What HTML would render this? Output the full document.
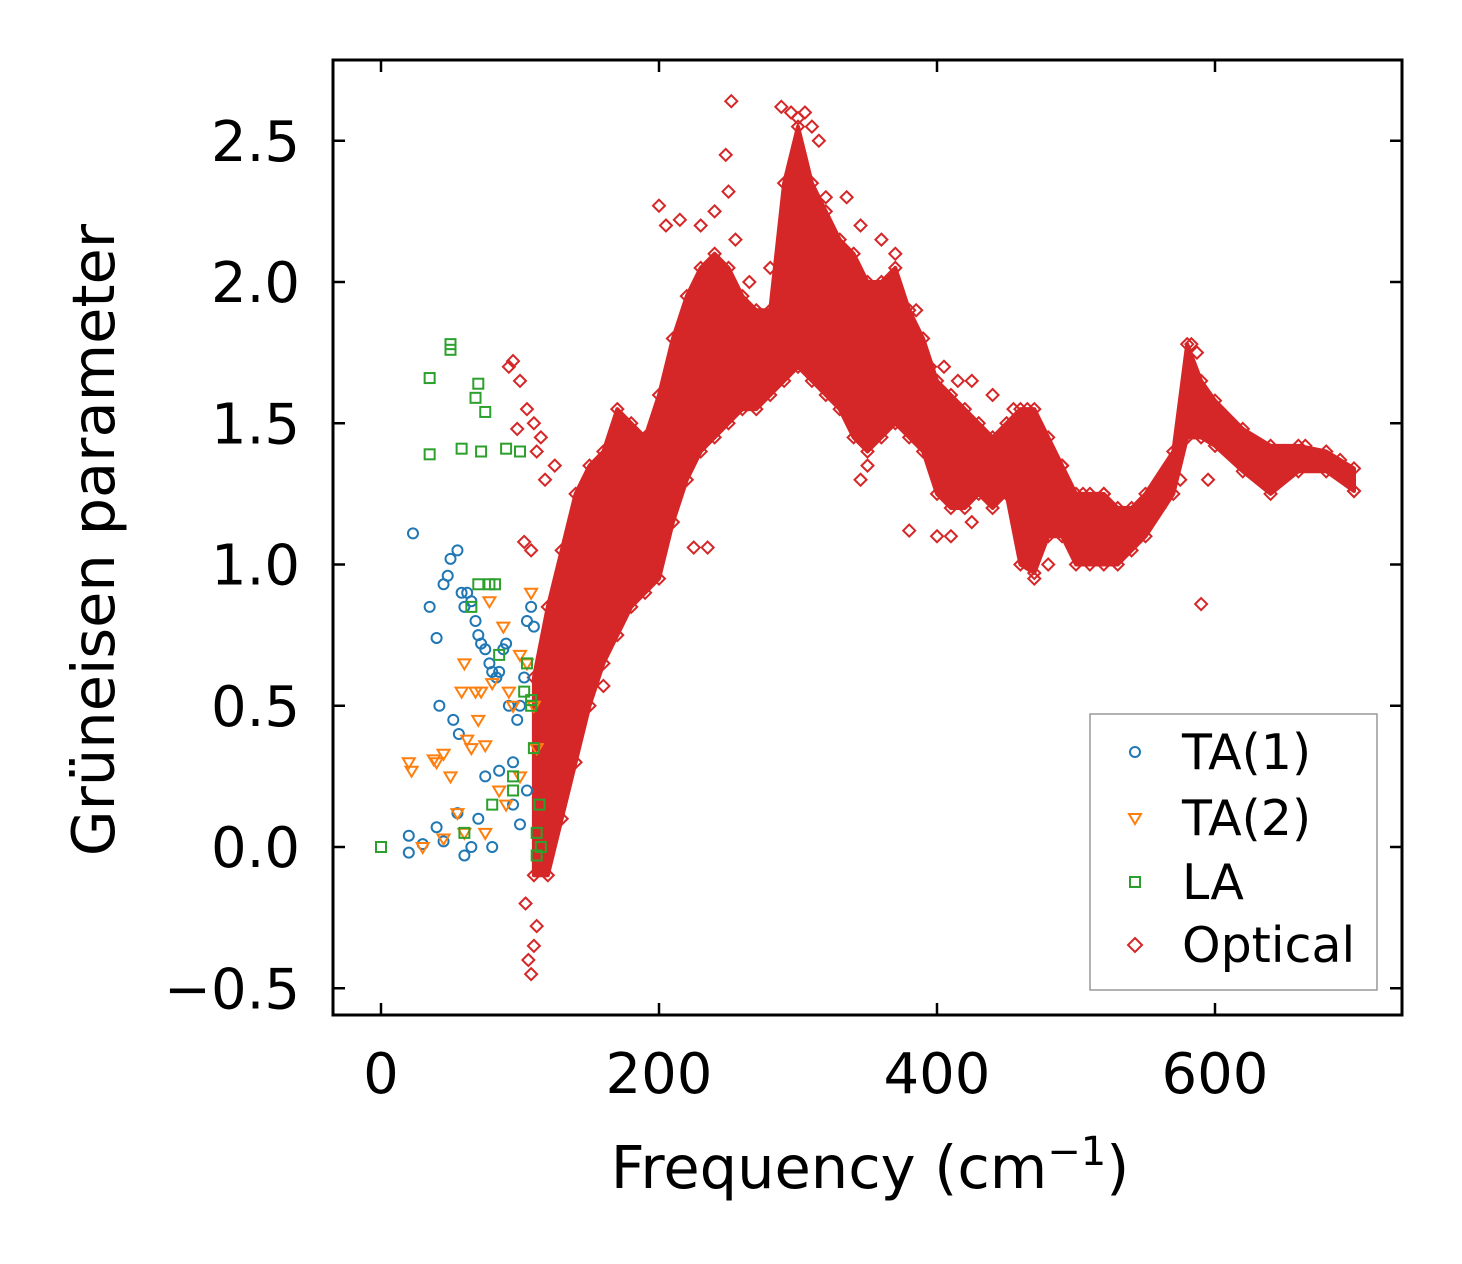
<!DOCTYPE html>
<html><head><meta charset="utf-8"><style>
html,body{margin:0;padding:0;background:#fff}
svg{display:block;font-family:"DejaVu Sans","Liberation Sans",sans-serif}
</style></head><body>
<svg id="chart" width="1462" height="1264" viewBox="0 0 1462 1264" xmlns="http://www.w3.org/2000/svg">
<rect width="1462" height="1264" fill="#fff"/>
<g id="marks"></g>
<g id="axes"></g>
<text x="870" y="1188" font-size="59" text-anchor="middle">Frequency (cm<tspan font-size="40" dy="-23">−1</tspan><tspan dy="23">)</tspan></text>
<text transform="translate(114,540) rotate(-90)" font-size="59" text-anchor="middle">Grüneisen parameter</text>
<g>
<rect x="1090" y="714" width="287" height="276" fill="#fff" stroke="#999" stroke-width="1.5"/>
<circle cx="1135" cy="752" r="5" fill="none" stroke="#1f77b4" stroke-width="2"/>
<text x="1182" y="769" font-size="49">TA(1)</text>
<path d="M1129,814 L1141,814 L1135,824 Z" fill="none" stroke="#ff7f0e" stroke-width="2"/>
<text x="1182" y="835" font-size="49">TA(2)</text>
<rect x="1130" y="877" width="10" height="10" fill="none" stroke="#2ca02c" stroke-width="2"/>
<text x="1182" y="899" font-size="49">LA</text>
<path d="M1135,938 L1142,945 L1135,952 L1128,945 Z" fill="none" stroke="#d62728" stroke-width="2"/>
<text x="1182" y="962" font-size="49">Optical</text>
</g>
</svg>
<script>
const xTicks=[0,200,400,600];
const yTicks=[-0.5,0,0.5,1.0,1.5,2.0,2.5];
const yTickLabels=["−0.5","0.0","0.5","1.0","1.5","2.0","2.5"];
const bandX=[110,120,130,140,150,160,170,180,190,200,210,220,230,240,250,260,270,280,290,300,310,320,330,340,350,360,370,380,390,400,410,420,430,440,450,460,470,480,490,500,510,520,530,540,550,570,580,590,600,620,640,660,680,700];
const bandLo=[-0.1,-0.1,0.1,0.3,0.5,0.65,0.75,0.85,0.9,0.95,1.15,1.3,1.4,1.45,1.5,1.55,1.55,1.6,1.65,1.7,1.65,1.6,1.55,1.45,1.4,1.45,1.5,1.45,1.4,1.25,1.2,1.2,1.25,1.2,1.25,1.0,0.97,1.1,1.1,1.0,1.0,1.0,1.0,1.05,1.1,1.25,1.45,1.45,1.42,1.33,1.25,1.33,1.33,1.26];
const bandHi=[0.6,0.85,1.05,1.25,1.35,1.4,1.55,1.5,1.45,1.6,1.8,1.95,2.05,2.1,2.05,1.95,1.9,1.9,2.35,2.55,2.35,2.25,2.15,2.1,2.0,2.0,2.05,1.9,1.8,1.65,1.6,1.55,1.5,1.45,1.5,1.55,1.55,1.45,1.35,1.25,1.25,1.25,1.2,1.2,1.25,1.4,1.78,1.65,1.58,1.48,1.42,1.42,1.4,1.34];
const optX=[252,248,250,288,295,300,305,310,315,95,100,105,110,115,92,98,103,108,112,118,125,200,205,215,230,240,255,265,280,320,335,345,360,370,385,395,405,415,425,440,455,465,470,475,490,505,520,545,560,575,583,587,590,595,610,630,650,665,690,700,108,110,112,106,104,380,345,350,400,410,425,470,480,225,235,180,160];
const optY=[2.64,2.45,2.32,2.62,2.6,2.58,2.6,2.55,2.5,1.72,1.65,1.55,1.5,1.45,1.7,1.48,1.08,1.05,1.4,1.3,1.35,2.27,2.2,2.22,2.2,2.25,2.15,2.0,2.05,2.3,2.3,2.2,2.15,2.1,1.9,1.7,1.7,1.65,1.65,1.6,1.55,1.55,1.5,1.45,1.35,1.25,1.25,1.2,1.2,1.3,1.78,1.75,0.86,1.3,1.4,1.4,1.4,1.42,1.37,1.26,-0.45,-0.35,-0.28,-0.4,-0.2,1.12,1.3,1.35,1.1,1.1,1.15,0.95,1.0,1.06,1.06,0.9,0.57];
const ta1X=[23,20,20,30,35,40,42,45,48,50,52,55,56,58,60,62,65,68,70,72,75,78,80,83,85,88,90,92,95,98,100,103,105,108,110,40,45,55,65,75,85,95,100,105,60,70,80];
const ta1Y=[1.11,0.04,-0.02,0.01,0.85,0.74,0.5,0.93,0.96,1.02,0.45,1.05,0.4,0.9,0.85,0.9,0.87,0.8,0.75,0.72,0.7,0.65,0.62,0.6,0.62,0.7,0.72,0.5,0.3,0.45,0.5,0.6,0.8,0.85,0.78,0.07,0.02,0.12,0.0,0.25,0.27,0.15,0.08,0.2,-0.03,0.1,0.0];
const ta2X=[20,22,30,38,40,45,50,55,58,60,62,65,68,70,72,75,78,80,85,88,92,95,100,105,108,112,45,60,75,90,100,110];
const ta2Y=[0.3,0.27,0.0,0.31,0.3,0.33,0.25,0.12,0.55,0.65,0.38,0.35,0.55,0.45,0.55,0.36,0.87,0.58,0.2,0.78,0.55,0.5,0.68,0.65,0.9,0.35,0.03,0.05,0.05,0.15,0.25,0.5];
const laX=[0,35,35,50,50,58,68,70,72,75,78,82,85,90,95,100,103,105,108,110,112,114,115,65,80,95,108,112,60,70];
const laY=[0.0,1.66,1.39,1.78,1.76,1.41,1.59,1.64,1.4,1.54,0.93,0.93,0.68,1.41,0.25,1.4,0.55,0.65,0.5,0.35,0.05,0.15,0.0,0.85,0.15,0.2,0.52,-0.03,0.05,0.93];
const L=333,R=1402,T=60,B=1015;
const xs=v=>381+v*1.39;
const ys=v=>847-v*282.5;
const NS="http://www.w3.org/2000/svg";
const marks=document.getElementById('marks'),axes=document.getElementById('axes');
function mk(tag,attrs,parent){const e=document.createElementNS(NS,tag);for(const k in attrs)e.setAttribute(k,attrs[k]);parent.appendChild(e);return e;}
let d="M"+bandX.map((x,i)=>xs(x)+","+ys(bandHi[i])).join(" L");
for(let i=bandX.length-1;i>=0;i--)d+=" L"+xs(bandX[i])+","+ys(bandLo[i]);
d+=" Z";
const band=mk('path',{d:d,fill:"#d62728",stroke:"#d62728","stroke-width":4,"stroke-linejoin":"round"},marks);


function diamond(x,y){return mk('path',{d:`M${x},${y-6} L${x+6},${y} L${x},${y+6} L${x-6},${y} Z`,fill:"none",stroke:"#d62728","stroke-width":2},marks);}
bandX.forEach((x,i)=>{
 const a=diamond(xs(x),ys(bandHi[i]));
 const b=diamond(xs(x),ys(bandLo[i]));
});
optX.forEach((x,i)=>{const e=diamond(xs(x),ys(optY[i]));});
ta1X.forEach((x,i)=>{const e=mk('circle',{cx:xs(x),cy:ys(ta1Y[i]),r:5,fill:"none",stroke:"#1f77b4","stroke-width":2},marks);});
ta2X.forEach((x,i)=>{const X=xs(x),Y=ys(ta2Y[i]);const e=mk('path',{d:`M${X-6},${Y-4} L${X+6},${Y-4} L${X},${Y+6} Z`,fill:"none",stroke:"#ff7f0e","stroke-width":2},marks);});
laX.forEach((x,i)=>{const e=mk('rect',{x:xs(x)-5,y:ys(laY[i])-5,width:10,height:10,fill:"none",stroke:"#2ca02c","stroke-width":2},marks);});
const fr=mk('rect',{x:L,y:T,width:R-L,height:B-T,fill:"none",stroke:"#000","stroke-width":3},axes);


xTicks.forEach(v=>{const x=xs(v);
 mk('line',{x1:x,y1:B,x2:x,y2:B-12,stroke:"#000","stroke-width":2.5},axes);
 mk('line',{x1:x,y1:T,x2:x,y2:T+12,stroke:"#000","stroke-width":2.5},axes);
 const t=mk('text',{x:x,y:1093,"font-size":56,"text-anchor":"middle"},axes);t.textContent=v;
 });
yTicks.forEach((v,i)=>{const y=ys(v);
 mk('line',{x1:L,y1:y,x2:L+12,y2:y,stroke:"#000","stroke-width":2.5},axes);
 mk('line',{x1:R,y1:y,x2:R-12,y2:y,stroke:"#000","stroke-width":2.5},axes);
 const t=mk('text',{x:300,y:y+20,"font-size":56,"text-anchor":"end"},axes);t.textContent=yTickLabels[i];
 });
</script>
</body></html>
